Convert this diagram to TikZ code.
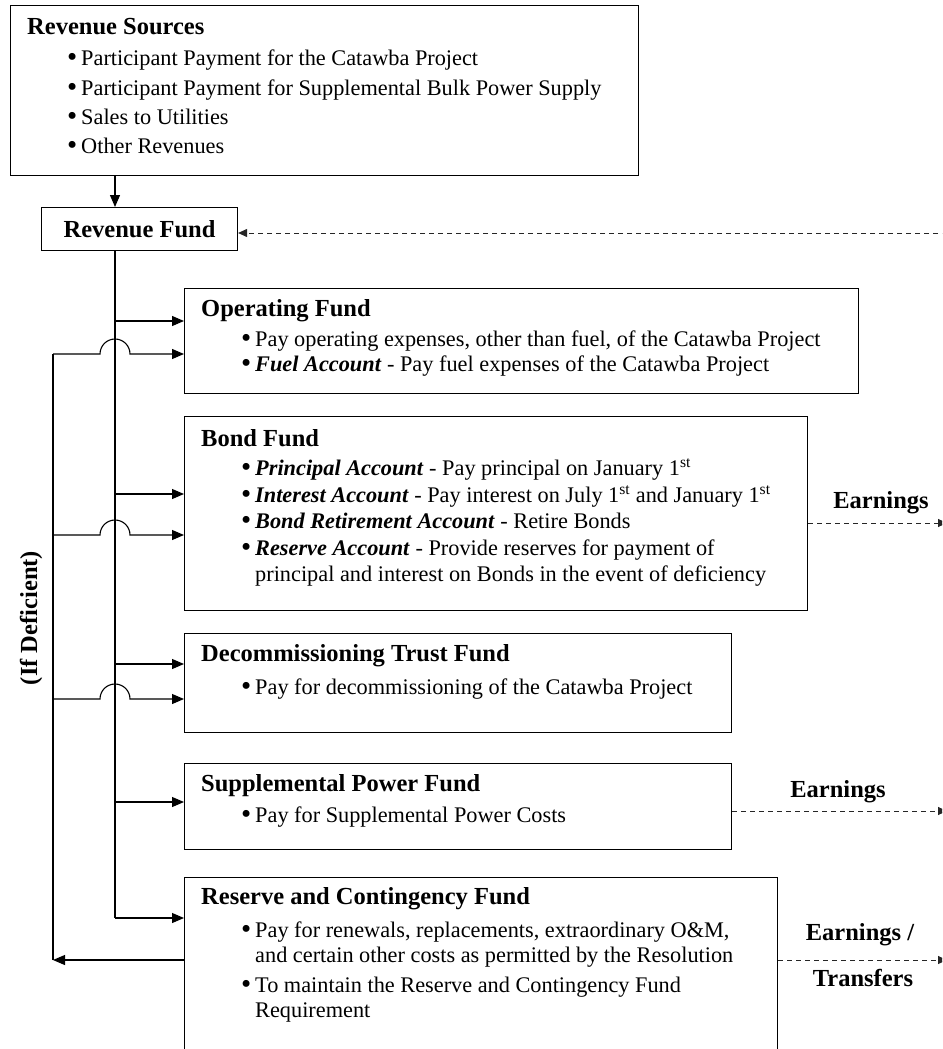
\documentclass[tikz,border=0pt]{standalone}
\usepackage{fontspec}
\setmainfont{Liberation Serif}
\usetikzlibrary{arrows.meta}
\tikzset{
  x=1pt, y=-1pt,
  box/.style={draw, line width=1.1pt, rectangle, inner sep=0pt, anchor=north west},
  ln/.style={line width=1.1pt},
  arr/.style={ln, -{Triangle[length=12pt,width=10pt]}},
  dsh/.style={line width=1pt, dash pattern=on 5pt off 4pt, draw=black!85},
  darr/.style={dsh, -{Triangle[length=9pt,width=8pt]}},
  ttl/.style={font=\fontsize{24.5}{28}\selectfont\bfseries, anchor=west, inner sep=0pt, text height=17pt, text depth=5pt},
  txt/.style={font=\fontsize{22.3}{26}\selectfont, anchor=west, inner sep=0pt, text height=16pt, text depth=5pt},
  lbl/.style={font=\fontsize{24.5}{28}\selectfont\bfseries, anchor=center, inner sep=0pt},
}
\newcommand{\bul}{\makebox[14pt][l]{\raisebox{-0.5pt}{\scalebox{1.3}{\textbullet}}}}
\newcommand{\bi}[1]{\textbf{\textit{#1}}}
\begin{document}
\begin{tikzpicture}
\useasboundingbox (0,0) rectangle (942,1049);
\clip (0,0) rectangle (942,1049);

% boxes
\node[box, minimum width=628pt, minimum height=170pt] (rs) at (10,5) {};
\node[box, minimum width=196pt, minimum height=43pt] (rf) at (41,207) {};
\node[box, minimum width=674pt, minimum height=105pt] (opf) at (184,288) {};
\node[box, minimum width=623pt, minimum height=194pt] (bf) at (184,416) {};
\node[box, minimum width=547pt, minimum height=99pt] (dtf) at (184,633) {};
\node[box, minimum width=547pt, minimum height=86pt] (spf) at (184,763) {};
\node[box, minimum width=593pt, minimum height=200pt] (rcf) at (184,877) {};

% Revenue Sources
\node[ttl] (rst) at (27,29) {Revenue Sources};
\node[txt] (rs1) at (67,60) {\bul Participant Payment for the Catawba Project};
\node[txt] (rs2) at (67,90) {\bul Participant Payment for Supplemental Bulk Power Supply};
\node[txt] (rs3) at (67,119) {\bul Sales to Utilities};
\node[txt] (rs4) at (67,148) {\bul Other Revenues};

% Revenue Fund
\node[lbl] (rft) at (rf.center) {Revenue Fund};

% Operating Fund
\node[ttl] (opt) at (201,310) {Operating Fund};
\node[txt] (op1) at (241,341) {\bul Pay operating expenses, other than fuel, of the Catawba Project};
\node[txt] (op2) at (241,366) {\bul \bi{Fuel Account} - Pay fuel expenses of the Catawba Project};

% Bond Fund
\node[ttl] (bft) at (201,440) {Bond Fund};
\node[txt] (bf1) at (241,470) {\bul \bi{Principal Account} - Pay principal on January 1\textsuperscript{st}};
\node[txt] (bf2) at (241,497) {\bul \bi{Interest Account} - Pay interest on July 1\textsuperscript{st} and January 1\textsuperscript{st}};
\node[txt] (bf3) at (241,523) {\bul \bi{Bond Retirement Account} - Retire Bonds};
\node[txt] (bf4) at (241,550) {\bul \bi{Reserve Account} - Provide reserves for payment of};
\node[txt] (bf5) at (255,576) {principal and interest on Bonds in the event of deficiency};

% Decommissioning Trust Fund
\node[ttl] (dtt) at (201,655) {Decommissioning Trust Fund};
\node[txt] (dt1) at (241,689) {\bul Pay for decommissioning of the Catawba Project};

% Supplemental Power Fund
\node[ttl] (spt) at (201,785) {Supplemental Power Fund};
\node[txt] (sp1) at (241,817) {\bul Pay for Supplemental Power Costs};

% Reserve and Contingency Fund
\node[ttl] (rct) at (201,898) {Reserve and Contingency Fund};
\node[txt] (rc1) at (241,932) {\bul Pay for renewals, replacements, extraordinary O\&M,};
\node[txt] (rc2) at (255,957) {and certain other costs as permitted by the Resolution};
\node[txt] (rc3) at (241,987) {\bul To maintain the Reserve and Contingency Fund};
\node[txt] (rc4) at (255,1012) {Requirement};

% side labels
\node[lbl] (e1) at (881,503) {Earnings};
\node[lbl] (e2) at (838,792) {Earnings};
\node[lbl] (e3) at (860,935) {Earnings /};
\node[lbl] (e4) at (863,978) {Transfers};
\node[lbl, rotate=90] (ifd) at (31,618) {(If Deficient)};

% trunk coordinates
\coordinate (t0) at (115,250);
\coordinate (b1) at (115,321);
\coordinate (b2) at (115,494);
\coordinate (b3) at (115,664);
\coordinate (b4) at (115,802);
\coordinate (b5) at (115,918);
\coordinate (k1) at (53,354);
\coordinate (k2) at (53,535);
\coordinate (k3) at (53,699);
\coordinate (kl) at (53,960);
\coordinate (d0) at (947,233);
\coordinate (d1) at (947,523);
\coordinate (d2) at (947,811);
\coordinate (d3) at (947,960);

% revenue sources -> revenue fund
\draw[arr] (rs.south -| t0) -- (rf.north -| t0);
% trunk
\draw[ln] (t0) -- (b5);
\draw[arr] (b1) -- (b1 -| opf.west);
\draw[arr] (b2) -- (b2 -| bf.west);
\draw[arr] (b3) -- (b3 -| dtf.west);
\draw[arr] (b4) -- (b4 -| spf.west);
\draw[arr] (b5) -- (b5 -| rcf.west);

% deficiency loop
\draw[arr] (kl -| rcf.west) -- (kl);
\draw[ln] (kl) -- (k1);
\draw[arr] (k1) -- ++(47,0) arc[start angle=180, end angle=0, radius=15pt] -- (k1 -| opf.west);
\draw[arr] (k2) -- ++(47,0) arc[start angle=180, end angle=0, radius=15pt] -- (k2 -| bf.west);
\draw[arr] (k3) -- ++(47,0) arc[start angle=180, end angle=0, radius=15pt] -- (k3 -| dtf.west);

% dashed earnings lines
\draw[darr] (d0) -- (d0 -| rf.east);
\draw[darr] (d1 -| bf.east) -- (d1);
\draw[darr] (d2 -| spf.east) -- (d2);
\draw[darr] (d3 -| rcf.east) -- (d3);
\end{tikzpicture}
\end{document}
